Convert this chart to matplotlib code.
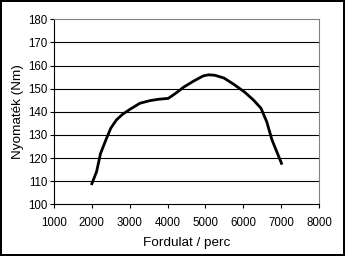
import matplotlib
matplotlib.use("Agg")
import matplotlib.pyplot as plt

# engine torque curve
rpm = [2000, 2125, 2230, 2370, 2500, 2650, 2810, 3000, 3270, 3530, 3750, 4020,
       4240, 4420, 4690, 4940, 5080, 5250, 5490, 5740, 6030, 6270, 6470, 6620,
       6760, 7010]
torque = [108.9, 114.1, 122.0, 127.8, 132.9, 136.5, 138.9, 141.0, 143.7, 144.8,
          145.4, 145.8, 148.3, 150.6, 153.3, 155.5, 156.0, 155.8, 154.6, 152.0,
          148.6, 145.1, 141.5, 135.7, 127.8, 117.7]

x_ticks = [1000, 2000, 3000, 4000, 5000, 6000, 7000, 8000]
y_ticks = [100, 110, 120, 130, 140, 150, 160, 170, 180]

plt.rcParams["font.family"] = ["Liberation Sans", "DejaVu Sans"]

fig = plt.figure(figsize=(3.45, 2.56), dpi=100)
fig.patch.set_edgecolor("black")
fig.patch.set_linewidth(1.5)
ax = fig.add_axes([0.1565, 0.202, 0.768, 0.7226])

for y in y_ticks[1:-1]:
    ax.axhline(y, color="black", linewidth=0.8, zorder=1)

ax.plot(rpm, torque, color="black", linewidth=2.0, zorder=3)

ax.set_xlim(1000, 8000)
ax.set_ylim(100, 180)
ax.set_xticks(x_ticks)
ax.set_yticks(y_ticks)
ax.tick_params(labelsize=8.3, length=3, width=0.8, pad=2)
ax.tick_params(axis="x", pad=6)

for s in ["left", "bottom"]:
    ax.spines[s].set_color("black")
    ax.spines[s].set_linewidth(0.8)
for s in ["top", "right"]:
    ax.spines[s].set_color("#808080")
    ax.spines[s].set_linewidth(0.8)

ax.set_xlabel("Fordulat / perc", fontsize=9.7, labelpad=6)
ax.set_ylabel("Nyomaték (Nm)", fontsize=9.7, labelpad=3)

fig.savefig("out.png", dpi=100)
